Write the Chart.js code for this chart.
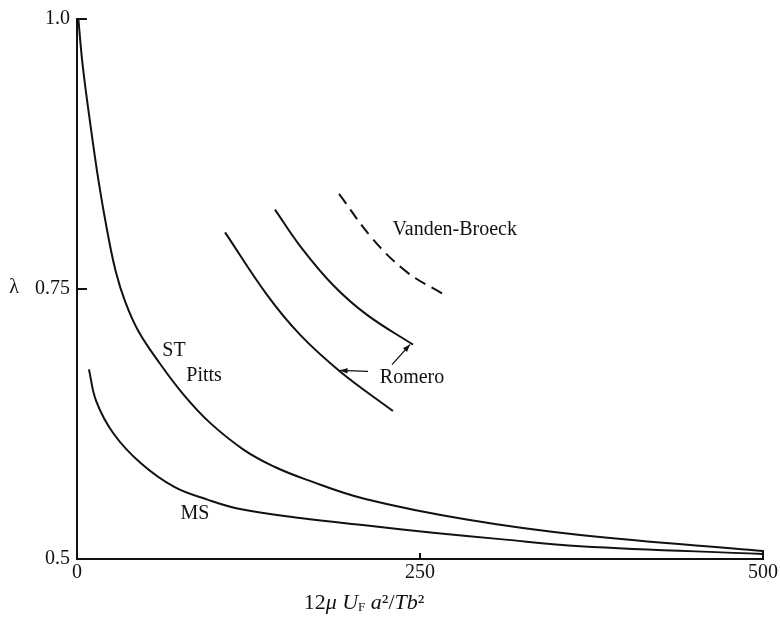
<!DOCTYPE html>
<html><head><meta charset="utf-8">
<script src="https://cdn.jsdelivr.net/npm/chart.js@4.4.0/dist/chart.umd.min.js"></script>
<style>html,body{margin:0;padding:0;background:#fff;overflow:hidden}#wrap{width:780px;height:621px;position:relative}</style>
</head><body><div id="wrap"><canvas id="c"></canvas></div>
<script>
// ---- data ----
const xTickValues = [0, 250, 500];
const yTickValues = [0.5, 0.75, 1.0];
const yTickLabels = ['0.5', '0.75', '1.0'];

const stPittsX = [1, 4.0, 9.6, 15.9, 22.2, 28.3, 35.1, 44.8, 60.4, 77.8, 96.6, 121.6, 143.9, 167.1, 210.2, 284, 366.7, 500];
const stPittsY = [1.0, 0.9587, 0.9036, 0.8485, 0.8026, 0.7659, 0.7383, 0.7108, 0.681, 0.652, 0.6265, 0.6011, 0.5854, 0.5735, 0.5555, 0.5365, 0.5222, 0.5074];

const msX = [8.7, 14.0, 26.7, 46.6, 70.9, 95.1, 119.8, 162.6, 211.4, 259.5, 308.4, 366.7, 500];
const msY = [0.6756, 0.6462, 0.616, 0.5886, 0.5667, 0.555, 0.546, 0.538, 0.531, 0.5244, 0.5184, 0.5119, 0.5046];

const romero1X = [107.9, 138.5, 162.5, 191.7, 230.3];
const romero1Y = [0.8024, 0.7445, 0.7077, 0.6737, 0.637];

const romero2X = [144.3, 162.5, 186.6, 211.4, 244.9];
const romero2Y = [0.8235, 0.790, 0.7537, 0.726, 0.6985];

const vandenX = [191, 215.8, 240.5, 266];
const vandenY = [0.838, 0.796, 0.7656, 0.746];

const endCapX = [500, 500];
const endCapY = [0.5, 0.508];

// curve labels (data coordinates)
const curveLabels = [
  {text: 'ST', x: 70.7, y: 0.6925, align: 'center'},
  {text: 'Pitts', x: 92.6, y: 0.670, align: 'center'},
  {text: 'MS', x: 86, y: 0.542, align: 'center'},
  {text: 'Romero', x: 244.2, y: 0.668, align: 'center'},
  {text: 'Vanden-Broeck', x: 230, y: 0.805, align: 'left'}
];
// arrows: from -> to (data coordinates)
const arrows = [
  {x0: 212.1, y0: 0.6737, x1: 191.7, y1: 0.6746},
  {x0: 229.6, y0: 0.680, x1: 242.7, y1: 0.6985}
];

const FONT = '"Liberation Serif", "DejaVu Serif", serif';
const INK = '#111';

function pts(xs, ys) { return xs.map((x, i) => ({x: x, y: ys[i]})); }
function lineDs(label, xs, ys, extra) {
  return Object.assign({
    label: label, data: pts(xs, ys), showLine: true, pointRadius: 0,
    borderColor: INK, borderWidth: 2, tension: 0.4,
    fill: false, clip: false
  }, extra || {});
}

const decor = {
  id: 'decor',
  afterDraw(chart) {
    const ctx = chart.ctx, xs = chart.scales.x, ys = chart.scales.y;
    ctx.save();
    ctx.strokeStyle = INK; ctx.fillStyle = INK; ctx.lineWidth = 2;
    // inward ticks
    [0.75, 1.0].forEach(v => {
      const py = ys.getPixelForValue(v);
      ctx.beginPath(); ctx.moveTo(xs.left, py); ctx.lineTo(xs.left + 10, py); ctx.stroke();
    });
    [250].forEach(v => {
      const px = xs.getPixelForValue(v);
      ctx.beginPath(); ctx.moveTo(px, ys.bottom); ctx.lineTo(px, ys.bottom - 6); ctx.stroke();
    });
    // curve labels
    ctx.font = '20px ' + FONT;
    ctx.textBaseline = 'middle';
    curveLabels.forEach(l => {
      ctx.textAlign = l.align;
      ctx.fillText(l.text, xs.getPixelForValue(l.x), ys.getPixelForValue(l.y));
    });
    // arrows
    ctx.lineWidth = 1.3;
    arrows.forEach(a => {
      const x0 = xs.getPixelForValue(a.x0), y0 = ys.getPixelForValue(a.y0);
      const x1 = xs.getPixelForValue(a.x1), y1 = ys.getPixelForValue(a.y1);
      ctx.beginPath(); ctx.moveTo(x0, y0); ctx.lineTo(x1, y1); ctx.stroke();
      const ang = Math.atan2(y1 - y0, x1 - x0), L = 8, W = 0.35;
      ctx.beginPath();
      ctx.moveTo(x1, y1);
      ctx.lineTo(x1 - L * Math.cos(ang - W), y1 - L * Math.sin(ang - W));
      ctx.lineTo(x1 - L * Math.cos(ang + W), y1 - L * Math.sin(ang + W));
      ctx.closePath(); ctx.fill();
    });
    // lambda symbol
    ctx.font = '20px ' + FONT;
    ctx.textAlign = 'center';
    ctx.fillText('λ', xs.left - 63, ys.getPixelForValue(0.75) - 1);
    // x-axis title: 12μ U_F a²/Tb²
    const S = 22;
    const parts = [
      {t: '12', f: S + 'px ' + FONT, dy: 0},
      {t: 'μ', f: 'italic ' + S + 'px ' + FONT, dy: 0},
      {t: ' ', f: S + 'px ' + FONT, dy: 0},
      {t: 'U', f: 'italic ' + S + 'px ' + FONT, dy: 0},
      {t: 'F', f: '13px ' + FONT, dy: 5},
      {t: ' ', f: S + 'px ' + FONT, dy: 0},
      {t: 'a', f: 'italic ' + S + 'px ' + FONT, dy: 0},
      {t: '²', f: S + 'px ' + FONT, dy: 0},
      {t: '/', f: S + 'px ' + FONT, dy: 0},
      {t: 'T', f: 'italic ' + S + 'px ' + FONT, dy: 0},
      {t: 'b', f: 'italic ' + S + 'px ' + FONT, dy: 0},
      {t: '²', f: S + 'px ' + FONT, dy: 0}
    ];
    let total = 0;
    parts.forEach(p => { ctx.font = p.f; p.w = ctx.measureText(p.t).width; total += p.w; });
    let cx = 364 - total / 2;
    const ty = 603;
    ctx.textAlign = 'left';
    parts.forEach(p => { ctx.font = p.f; ctx.fillText(p.t, cx, ty + p.dy); cx += p.w; });
    ctx.restore();
  }
};

new Chart(document.getElementById('c'), {
  type: 'scatter',
  data: {
    datasets: [
      lineDs('ST / Pitts', stPittsX, stPittsY),
      lineDs('MS', msX, msY),
      lineDs('Romero 1', romero1X, romero1Y),
      lineDs('Romero 2', romero2X, romero2Y),
      lineDs('Vanden-Broeck', vandenX, vandenY, {borderDash: [12, 7]}),
      lineDs('end', endCapX, endCapY, {tension: 0})
    ]
  },
  options: {
    responsive: true, maintainAspectRatio: false, animation: false,
    layout: {padding: {top: 15, right: 17, left: 0, bottom: 0}},
    plugins: {legend: {display: false}, tooltip: {enabled: false}},
    scales: {
      x: {
        type: 'linear', min: 0, max: 500,
        afterBuildTicks: s => { s.ticks = xTickValues.map(v => ({value: v})); },
        afterFit: s => { s.height = 62; },
        grid: {display: true, drawOnChartArea: false, drawTicks: false},
        border: {display: true, color: INK, width: 2},
        ticks: {color: INK, font: {family: FONT, size: 20}, padding: 2, maxRotation: 0,
                callback: v => String(v)}
      },
      y: {
        type: 'linear', min: 0.5, max: 1.0,
        afterBuildTicks: s => { s.ticks = yTickValues.map(v => ({value: v})); },
        afterFit: s => { s.width = 77; },
        grid: {display: true, drawOnChartArea: false, drawTicks: false},
        border: {display: true, color: INK, width: 2},
        ticks: {color: INK, font: {family: FONT, size: 20}, padding: 7,
                callback: v => yTickLabels[yTickValues.indexOf(v)] ?? ''}
      }
    }
  },
  plugins: [decor]
});
</script>
</body></html>
